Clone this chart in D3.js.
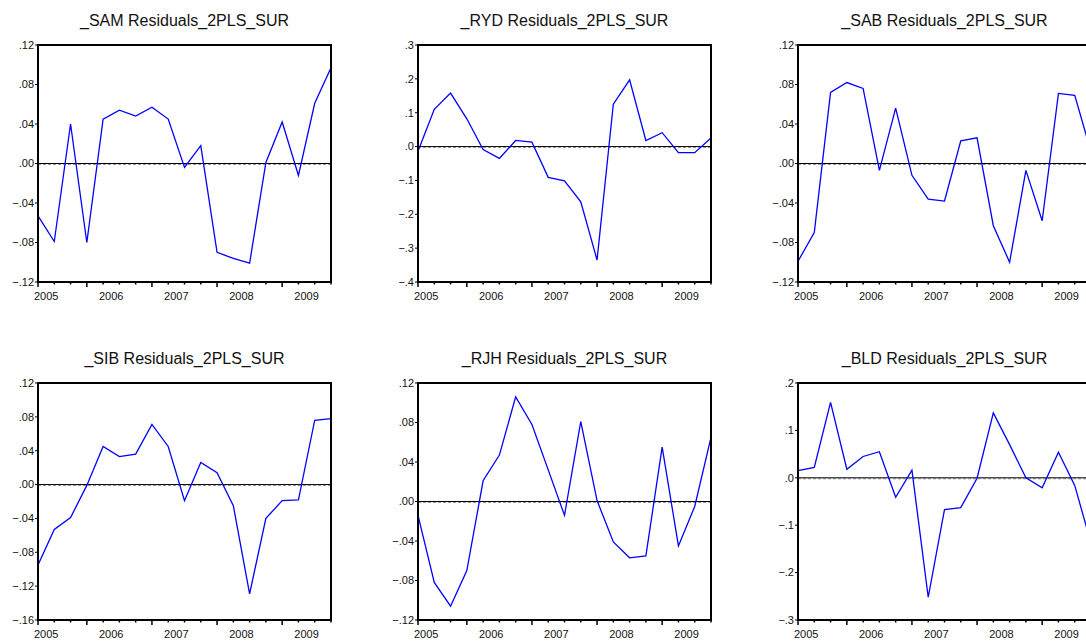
<!DOCTYPE html>
<html>
<head>
<meta charset="utf-8">
<script src="https://cdn.jsdelivr.net/npm/d3@7"></script>
<style>
  body { margin: 0; background: #fff; }
  svg { display: block; font-family: "Liberation Sans", Arial, sans-serif; }
</style>
</head>
<body>
<svg id="chart" width="1086" height="644"></svg>
<script>
// quarterly residuals, 19 observations each
const titles = ["_SAM Residuals_2PLS_SUR", "_RYD Residuals_2PLS_SUR", "_SAB Residuals_2PLS_SUR",
                "_SIB Residuals_2PLS_SUR", "_RJH Residuals_2PLS_SUR", "_BLD Residuals_2PLS_SUR"];
const years = ["2005", "2006", "2007", "2008", "2009"];

const sam = [-0.053, -0.079, 0.040, -0.080, 0.045, 0.054, 0.048, 0.057, 0.045, -0.004,
             0.018, -0.090, -0.096, -0.101, 0.001, 0.042, -0.012, 0.061, 0.097];
const ryd = [-0.014, 0.110, 0.158, 0.082, -0.009, -0.035, 0.018, 0.013, -0.091, -0.101,
             -0.163, -0.335, 0.125, 0.197, 0.018, 0.041, -0.018, -0.018, 0.025];
const sab = [-0.099, -0.070, 0.072, 0.082, 0.076, -0.007, 0.056, -0.012, -0.036, -0.038,
             0.023, 0.026, -0.063, -0.100, -0.007, -0.058, 0.071, 0.069, 0.012];
const sib = [-0.095, -0.053, -0.039, -0.001, 0.045, 0.033, 0.036, 0.071, 0.045, -0.019,
             0.026, 0.014, -0.025, -0.129, -0.040, -0.019, -0.018, 0.076, 0.078];
const rjh = [-0.014, -0.082, -0.106, -0.070, 0.021, 0.047, 0.106, 0.078, 0.032, -0.014,
             0.081, 0.001, -0.041, -0.057, -0.055, 0.055, -0.045, -0.005, 0.065];
const bld = [0.015, 0.022, 0.159, 0.018, 0.045, 0.055, -0.041, 0.016, -0.252, -0.067,
             -0.063, -0.001, 0.137, 0.070, 0.000, -0.021, 0.054, -0.016, -0.138];

const series = [sam, ryd, sab, sib, rjh, bld];
const yDomains = [[-0.12, 0.12], [-0.4, 0.3], [-0.12, 0.12],
                  [-0.16, 0.12], [-0.12, 0.12], [-0.3, 0.2]];
const yTicks = [
  [-0.12, -0.08, -0.04, 0, 0.04, 0.08, 0.12],
  [-0.4, -0.3, -0.2, -0.1, 0, 0.1, 0.2, 0.3],
  [-0.12, -0.08, -0.04, 0, 0.04, 0.08, 0.12],
  [-0.16, -0.12, -0.08, -0.04, 0, 0.04, 0.08, 0.12],
  [-0.12, -0.08, -0.04, 0, 0.04, 0.08, 0.12],
  [-0.3, -0.2, -0.1, 0, 0.1, 0.2]
];
const yDigits = [2, 1, 2, 2, 2, 1];

const svg = d3.select('#chart');
const colX = [38, 418, 798];
const rowY = [45, 383];
const pw = 293, ph = 237;

function fmtTick(v, digits) {
  return d3.format('.' + digits + 'f')(v).replace('0.', '.');
}

series.forEach((data, i) => {
  const left = colX[i % 3], top = rowY[Math.floor(i / 3)];
  const g = svg.append('g').attr('transform', 'translate(' + [left, top] + ')');

  const x = d3.scaleLinear().domain([0, data.length - 1]).range([0, pw]);
  const y = d3.scaleLinear().domain(yDomains[i]).range([ph, 0]);

  // title
  g.append('text')
    .attr('x', pw / 2).attr('y', -19)
    .attr('text-anchor', 'middle')
    .attr('font-size', 16)
    .attr('fill', '#111')
    .text(titles[i]);

  // y axis ticks + labels
  yTicks[i].forEach(t => {
    g.append('line')
      .attr('x1', -3).attr('x2', 0)
      .attr('y1', y(t)).attr('y2', y(t))
      .attr('stroke', '#000');
    g.append('text')
      .attr('x', -4).attr('y', y(t))
      .attr('dy', '0.35em')
      .attr('text-anchor', 'end')
      .attr('font-size', 11)
      .attr('fill', '#111')
      .text(fmtTick(t, yDigits[i]));
  });

  // x axis ticks: every quarter, longer at year boundaries
  d3.range(data.length).forEach(k => {
    const major = (k - 3) % 4 === 0 || k === 0;
    g.append('line')
      .attr('x1', x(k)).attr('x2', x(k))
      .attr('y1', ph).attr('y2', ph + (major ? 5 : 2.5))
      .attr('stroke', '#000')
      .attr('stroke-width', 1.5);
  });
  years.forEach((yr, k) => {
    g.append('text')
      .attr('x', x(0.5 + 4 * k)).attr('y', ph + 18)
      .attr('text-anchor', 'middle')
      .attr('font-size', 11)
      .attr('fill', '#111')
      .text(yr);
  });

  // zero line
  g.append('line')
    .attr('x1', 0).attr('x2', pw)
    .attr('y1', y(0) + 1).attr('y2', y(0) + 1)
    .attr('stroke', '#999')
    .attr('stroke-dasharray', '3,2');
  g.append('line')
    .attr('x1', 0).attr('x2', pw)
    .attr('y1', y(0)).attr('y2', y(0))
    .attr('stroke', '#000');

  // series line
  g.append('path')
    .datum(data)
    .attr('fill', 'none')
    .attr('stroke', '#0000ff')
    .attr('stroke-width', 1.3)
    .attr('d', d3.line().x((d, k) => x(k)).y(d => y(d)));

  // frame
  g.append('rect')
    .attr('width', pw).attr('height', ph)
    .attr('fill', 'none')
    .attr('stroke', '#000')
    .attr('stroke-width', 2);
});
</script>
</body>
</html>
